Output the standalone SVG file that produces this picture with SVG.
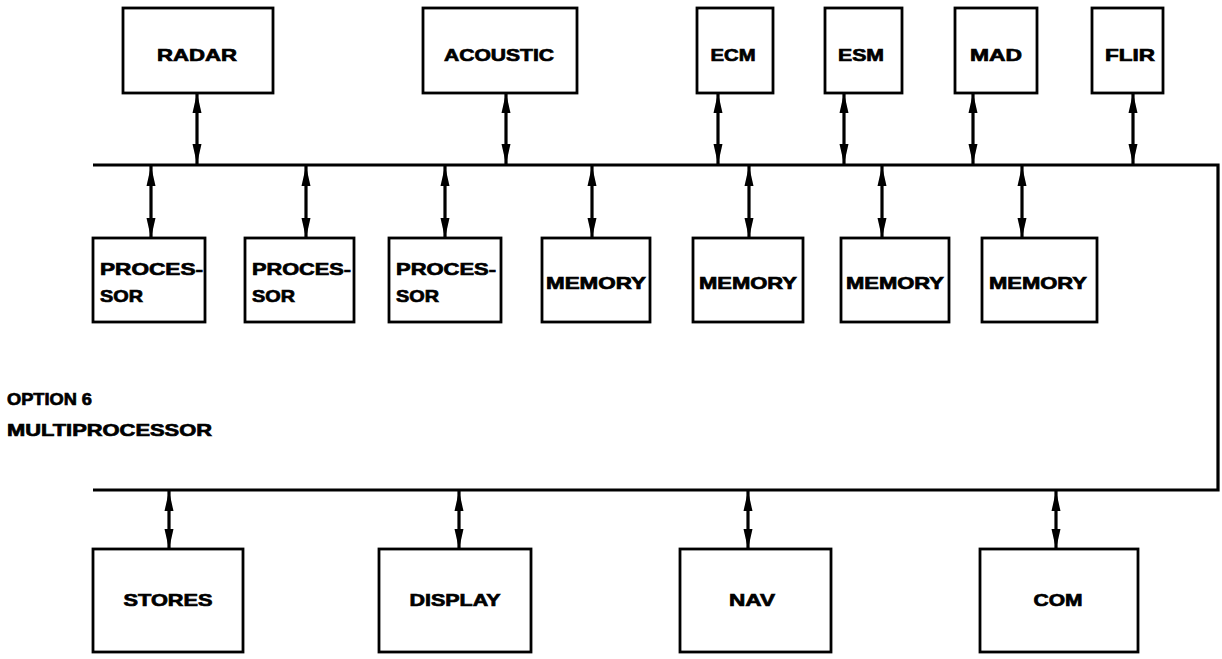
<svg xmlns="http://www.w3.org/2000/svg" width="1222" height="659" viewBox="0 0 1222 659">
<style>
.box{fill:#fff;stroke:#000;stroke-width:2.8}
.t{font-family:"Liberation Sans",Arial,sans-serif;font-weight:bold;font-size:17px;fill:#000;stroke:#000;stroke-width:0.7}
.c{text-anchor:middle}
.bus{fill:none;stroke:#000;stroke-width:3.2}
.ar{stroke:#000;stroke-width:3.2;marker-start:url(#ah);marker-end:url(#ah)}
</style>
<defs>
<marker id="ah" viewBox="0 0 20 10" refX="20" refY="5" markerWidth="20" markerHeight="10" markerUnits="userSpaceOnUse" orient="auto-start-reverse">
<path d="M0,0.5 L20,5 L0,9.5 Z" fill="#000"/>
</marker>
</defs>
<rect width="1222" height="659" fill="#fff"/>
<g id="connectors">
<path class="bus" d="M93,165 H1218 V490 H93"/>
<line class="ar" x1="197" y1="93" x2="197" y2="164"/>
<line class="ar" x1="506" y1="93" x2="506" y2="164"/>
<line class="ar" x1="718" y1="93" x2="718" y2="164"/>
<line class="ar" x1="844" y1="93" x2="844" y2="164"/>
<line class="ar" x1="973" y1="93" x2="973" y2="164"/>
<line class="ar" x1="1133" y1="93" x2="1133" y2="164"/>
<line class="ar" x1="151" y1="166" x2="151" y2="238"/>
<line class="ar" x1="306" y1="166" x2="306" y2="238"/>
<line class="ar" x1="445" y1="166" x2="445" y2="238"/>
<line class="ar" x1="592" y1="166" x2="592" y2="238"/>
<line class="ar" x1="749" y1="166" x2="749" y2="238"/>
<line class="ar" x1="882" y1="166" x2="882" y2="238"/>
<line class="ar" x1="1022" y1="166" x2="1022" y2="238"/>
<line class="ar" x1="169" y1="491" x2="169" y2="549"/>
<line class="ar" x1="459" y1="491" x2="459" y2="549"/>
<line class="ar" x1="748" y1="491" x2="748" y2="549"/>
<line class="ar" x1="1056" y1="491" x2="1056" y2="549"/>
</g>
<g id="radar"><rect class="box" x="123" y="8" width="150" height="85"/><text class="t c" x="197" y="61" textLength="80" lengthAdjust="spacingAndGlyphs">RADAR</text></g>
<g id="acoustic"><rect class="box" x="423" y="8" width="154" height="85"/><text class="t c" x="499" y="61" textLength="110" lengthAdjust="spacingAndGlyphs">ACOUSTIC</text></g>
<g id="ecm"><rect class="box" x="697" y="8" width="76" height="85"/><text class="t c" x="733" y="61" textLength="45" lengthAdjust="spacingAndGlyphs">ECM</text></g>
<g id="esm"><rect class="box" x="825" y="8" width="77" height="85"/><text class="t c" x="861" y="61" textLength="46" lengthAdjust="spacingAndGlyphs">ESM</text></g>
<g id="mad"><rect class="box" x="955" y="8" width="82" height="85"/><text class="t c" x="996" y="61" textLength="52" lengthAdjust="spacingAndGlyphs">MAD</text></g>
<g id="flir"><rect class="box" x="1092" y="8" width="71" height="85"/><text class="t c" x="1130" y="61" textLength="50" lengthAdjust="spacingAndGlyphs">FLIR</text></g>
<g id="processor1"><rect class="box" x="93" y="238" width="112" height="84"/><text class="t" x="100" y="275" textLength="103" lengthAdjust="spacingAndGlyphs">PROCES-</text><text class="t" x="100" y="302" textLength="43" lengthAdjust="spacingAndGlyphs">SOR</text></g>
<g id="processor2"><rect class="box" x="245" y="238" width="109" height="84"/><text class="t" x="252" y="275" textLength="99" lengthAdjust="spacingAndGlyphs">PROCES-</text><text class="t" x="252" y="302" textLength="43" lengthAdjust="spacingAndGlyphs">SOR</text></g>
<g id="processor3"><rect class="box" x="389" y="238" width="112" height="84"/><text class="t" x="396" y="275" textLength="100" lengthAdjust="spacingAndGlyphs">PROCES-</text><text class="t" x="396" y="302" textLength="43" lengthAdjust="spacingAndGlyphs">SOR</text></g>
<g id="memory1"><rect class="box" x="542" y="238" width="108" height="84"/><text class="t c" x="596" y="289" textLength="100" lengthAdjust="spacingAndGlyphs">MEMORY</text></g>
<g id="memory2"><rect class="box" x="693" y="238" width="110" height="84"/><text class="t c" x="748" y="289" textLength="98" lengthAdjust="spacingAndGlyphs">MEMORY</text></g>
<g id="memory3"><rect class="box" x="841" y="238" width="108" height="84"/><text class="t c" x="895" y="289" textLength="98" lengthAdjust="spacingAndGlyphs">MEMORY</text></g>
<g id="memory4"><rect class="box" x="982" y="238" width="115" height="84"/><text class="t c" x="1038" y="289" textLength="98" lengthAdjust="spacingAndGlyphs">MEMORY</text></g>
<g id="label"><text class="t" x="7" y="405" textLength="85" lengthAdjust="spacingAndGlyphs">OPTION 6</text><text class="t" x="7" y="436" textLength="205" lengthAdjust="spacingAndGlyphs">MULTIPROCESSOR</text></g>
<g id="stores"><rect class="box" x="93" y="549" width="150" height="103"/><text class="t c" x="168" y="606" textLength="89" lengthAdjust="spacingAndGlyphs">STORES</text></g>
<g id="display"><rect class="box" x="379" y="549" width="152" height="103"/><text class="t c" x="455" y="606" textLength="91" lengthAdjust="spacingAndGlyphs">DISPLAY</text></g>
<g id="nav"><rect class="box" x="680" y="549" width="151" height="103"/><text class="t c" x="752" y="606" textLength="46" lengthAdjust="spacingAndGlyphs">NAV</text></g>
<g id="com"><rect class="box" x="980" y="549" width="158" height="103"/><text class="t c" x="1058" y="606" textLength="49" lengthAdjust="spacingAndGlyphs">COM</text></g>
</svg>
